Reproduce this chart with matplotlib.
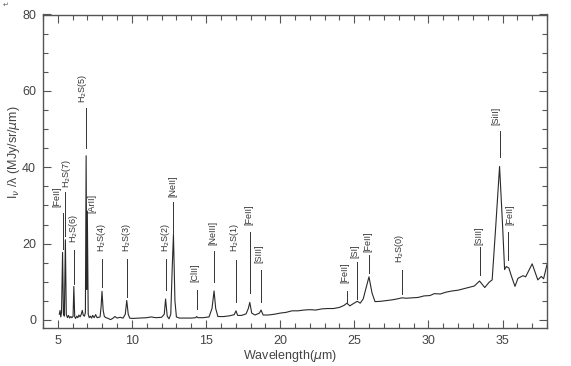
import matplotlib
matplotlib.use("Agg")
import matplotlib.pyplot as plt
from matplotlib.ticker import MultipleLocator

# ---- spectrum ----
wave = [5.10, 5.15, 5.20, 5.25, 5.32, 5.38, 5.44, 5.51, 5.57, 5.65, 5.72, 5.80, 5.88, 5.95,
        6.03, 6.08, 6.14, 6.20, 6.28, 6.35, 6.42, 6.50, 6.58, 6.65, 6.72, 6.80, 6.86, 6.91,
        6.95, 6.99, 7.05, 7.12, 7.20, 7.28, 7.35, 7.45, 7.55, 7.65, 7.75, 7.85, 7.92, 7.98,
        8.06, 8.14, 8.25, 8.40, 8.55, 8.70, 8.85, 9.00, 9.20, 9.40, 9.55, 9.65, 9.75, 9.85,
        10.0, 10.5, 11.0, 11.3, 11.6, 12.0, 12.18, 12.27, 12.38, 12.50, 12.62, 12.72, 12.80,
        12.90, 13.0, 13.2, 13.6, 14.0, 14.3, 14.37, 14.45, 14.8, 15.2, 15.4, 15.54, 15.65,
        15.8, 16.2, 16.6, 16.9, 17.02, 17.13, 17.4, 17.7, 17.85, 17.95, 18.08, 18.3, 18.6,
        18.71, 18.85, 19.2, 19.6, 20.0, 20.4, 20.8, 21.2, 21.6, 22.0, 22.4, 22.8, 23.2, 23.6,
        24.0, 24.3, 24.5, 24.7, 24.9, 25.2, 25.4, 25.6, 25.8, 25.99, 26.2, 26.4, 26.8, 27.2,
        27.6, 28.0, 28.2, 28.5, 28.9, 29.3, 29.7, 30.1, 30.4, 30.8, 31.2, 31.6, 32.0, 32.4,
        32.8, 33.1, 33.45, 33.8, 34.1, 34.3, 34.55, 34.8, 35.0, 35.14, 35.25, 35.43, 35.59,
        35.84, 36.04, 36.38, 36.56, 37.0, 37.38, 37.61, 37.77, 38.0]
flux = [1.5, 2.5, 0.8, 2.0, 17.7, 1.5, 1.0, 21.0, 1.5, 0.6, 1.2, 0.5, 0.9, 0.6,
        1.0, 8.8, 0.8, 0.4, 1.0, 0.6, 1.3, 0.8, 1.5, 2.5, 1.2, 1.0, 2.0, 43.0,
        8.0, 28.5, 1.5, 0.6, 1.0, 0.5, 1.2, 0.6, 1.4, 0.6, 0.7, 0.8, 3.5, 7.5,
        2.5, 0.9, 0.6, 0.4, 0.1, 0.4, 0.9, 0.5, 0.7, 0.5, 1.5, 5.1, 1.5, 0.5,
        0.4, 0.5, 0.6, 0.8, 0.6, 0.7, 1.5, 5.5, 1.0, 0.3, 1.5, 14.0, 22.4,
        5.0, 0.8, 0.5, 0.5, 0.5, 0.6, 0.9, 0.6, 0.6, 0.8, 3.0, 7.6, 3.0,
        0.9, 0.9, 1.1, 1.4, 2.4, 1.2, 1.2, 1.6, 3.0, 4.6, 1.8, 1.3, 1.8,
        2.6, 1.3, 1.3, 1.5, 1.8, 2.0, 2.4, 2.4, 2.6, 2.7, 2.6, 2.9, 3.0, 3.0,
        3.3, 3.8, 4.4, 3.7, 4.2, 4.9, 4.4, 5.5, 8.5, 11.3, 7.0, 4.8, 4.9, 5.1,
        5.3, 5.6, 5.8, 5.7, 5.8, 5.9, 6.3, 6.4, 6.9, 6.8, 7.3, 7.6, 7.8, 8.2,
        8.6, 8.9, 10.2, 8.5, 9.9, 10.5, 25.0, 40.2, 25.0, 13.2, 14.0, 13.6, 11.6,
        8.8, 10.9, 11.6, 11.3, 14.7, 10.5, 11.4, 10.8, 14.5]

# ---- line identifications ----
line_names = ["[FeII]", "H$_2$S(7)", "H$_2$S(6)", "H$_2$S(5)", "[ArII]", "H$_2$S(4)",
              "H$_2$S(3)", "H$_2$S(2)", "[NeII]", "[ClII]", "[NeIII]", "H$_2$S(1)",
              "[FeII]", "[SIII]", "[FeII]", "[SI]", "[FeII]", "H$_2$S(0)", "[SIII]",
              "[SiII]", "[FeII]"]
label_x = [4.93, 5.57, 6.05, 6.69, 7.33, 7.97, 9.65, 12.25, 12.78, 14.24, 15.47, 16.94,
           17.90, 18.57, 24.35, 25.03, 25.92, 28.06, 33.41, 34.58, 35.48]
label_y = [29.5, 34.6, 20.2, 56.8, 28.0, 17.8, 17.8, 17.8, 32.2, 10.0, 19.6, 17.8,
           24.9, 14.9, 9.7, 16.2, 17.8, 14.9, 19.6, 51.0, 24.9]
tick_x = [5.32, 5.51, 6.08, 6.91, None, 7.98, 9.65, 12.27, 12.80, 14.37, 15.54, 17.02,
          17.95, 18.71, 24.50, 25.20, 25.99, 28.20, 33.45, 34.80, 35.35]
tick_top = [28.0, 33.4, 18.2, 55.5, None, 16.0, 16.0, 16.0, 31.0, 7.9, 18.0, 15.8,
            23.0, 13.2, 7.6, 15.3, 17.0, 13.2, 19.0, 49.5, 23.0]
tick_bot = [18.5, 22.0, 9.5, 45.0, None, 8.7, 6.0, 7.8, 22.8, 3.0, 10.0, 4.7,
            7.0, 4.7, 4.8, 5.6, 12.3, 6.8, 11.8, 42.6, 15.8]

y_ticks = [0, 20, 40, 60, 80]
x_ticks = [5, 10, 15, 20, 25, 30, 35]

plt.rcParams['font.family'] = ['Liberation Sans', 'DejaVu Sans']
gray = '#555555'

fig = plt.figure(figsize=(5.71, 3.66), dpi=100)
ax = fig.add_axes([43/571, 1-328/366, (547-43)/571, (328-14.5)/366])

ax.plot(wave, flux, color='#2a2a2a', lw=0.8)

for name, lx, ly, tx, tt, tb in zip(line_names, label_x, label_y, tick_x, tick_top, tick_bot):
    ax.text(lx, ly, name, rotation=90, ha='center', va='bottom', fontsize=6.5,
            color='#333333')
    if tx is not None:
        ax.plot([tx, tx], [tb, tt], color='#333333', lw=0.7)

ax.set_xlim(4, 38)
ax.set_ylim(-2.1, 80)
ax.set_xticks(x_ticks)
ax.set_yticks(y_ticks)
ax.xaxis.set_minor_locator(MultipleLocator(1))
ax.yaxis.set_minor_locator(MultipleLocator(5))
ax.tick_params(which='both', direction='in', top=True, right=True, color=gray,
               labelcolor='#444444', labelsize=9, pad=5)
ax.tick_params(which='major', length=6, width=0.8)
ax.tick_params(which='minor', length=3.5, width=0.8)
for s in ax.spines.values():
    s.set_color(gray)
    s.set_linewidth(1.0)

fig.text(290/571, 1-356/366, "Wavelength($\\mu$m)", ha='center', va='center',
         fontsize=9, color='#444444')
fig.text(14/571, 1-152/366, "I$_\\nu$ /λ (MJy/sr/$\\mu$m)", rotation=90,
         ha='center', va='center', fontsize=9, color='#444444')
fig.text(3/571, 1-5/366, "↵", fontsize=5, color='#666666', ha='left', va='center',
         family='DejaVu Sans')

fig.savefig("out.png", dpi=100)
